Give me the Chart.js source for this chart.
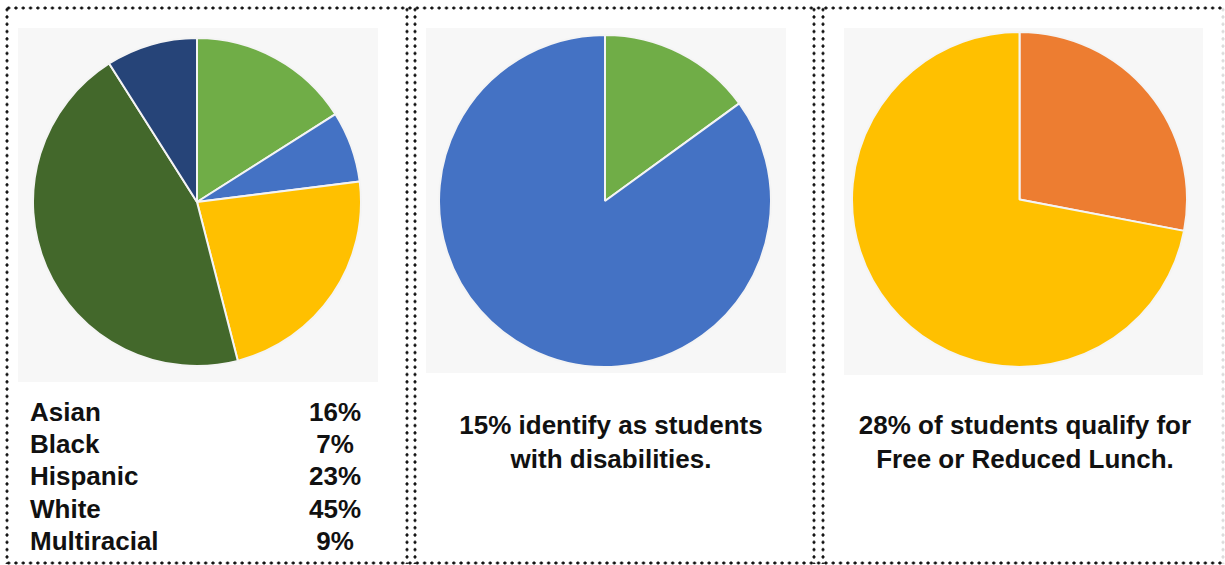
<!DOCTYPE html>
<html>
<head>
<meta charset="utf-8">
<script src="https://cdn.jsdelivr.net/npm/chart.js@4"></script>
<style>
  body { margin: 0; width: 1225px; height: 565px; background: #fff; position: relative; overflow: hidden;
         font-family: "Liberation Sans", Arial, sans-serif; font-weight: bold; color: #111; }
  .hdots { position: absolute; height: 4px; background: radial-gradient(circle, #111 1.3px, transparent 1.8px) 0 0 / 7.3px 4px repeat-x; }
  .vdots { position: absolute; width: 4px; background: radial-gradient(circle, #111 1.3px, transparent 1.8px) 0 0 / 4px 7.3px repeat-y; }
  .box { position: absolute; background: #f7f7f7; }
  .pie { position: absolute; }
  .txt { position: absolute; font-size: 26px; line-height: 34px; text-align: center; white-space: nowrap; }
  .row { position: absolute; font-size: 26px; white-space: nowrap; }
</style>
</head>
<body>
<div class="hdots" style="left:5px; top:6px; width:1220px"></div>
<div class="hdots" style="left:5px; top:561px; width:1220px"></div>
<div class="vdots" style="left:5px; top:6px; height:558px"></div>
<div class="vdots" style="left:405px; top:6px; height:558px"></div>
<div class="vdots" style="left:413px; top:6px; height:558px"></div>
<div class="vdots" style="left:812px; top:6px; height:558px"></div>
<div class="vdots" style="left:821px; top:6px; height:558px"></div>
<div class="vdots" style="left:1221px; top:6px; height:558px; opacity:0.15"></div>

<div class="box" style="left:18px; top:28px; width:360px; height:354px"></div>
<div class="box" style="left:426px; top:28px; width:360px; height:345px"></div>
<div class="box" style="left:844px; top:28px; width:359px; height:347px"></div>

<div class="pie" style="left:32px; top:37px; width:330px; height:330px"><canvas id="race"></canvas></div>
<div class="pie" style="left:438px; top:34px; width:334px; height:334px"><canvas id="disab"></canvas></div>
<div class="pie" style="left:851px; top:31px; width:337px; height:337px"><canvas id="lunch"></canvas></div>

<div id="legend"></div>
<div class="txt" style="left:420px; top:408px; width:382px">15% identify as students<br>with disabilities.</div>
<div class="txt" style="left:828px; top:408px; width:394px">28% of students qualify for<br>Free or Reduced Lunch.</div>

<script>
const raceLabels = ['Asian', 'Black', 'Hispanic', 'White', 'Multiracial']
const raceValues = [16, 7, 23, 45, 9]
const raceColors = ['#70ad47', '#4472c4', '#ffc000', '#43682b', '#264478']

const disabLabels = ['Students with disabilities', 'Other students']
const disabValues = [15, 85]
const disabColors = ['#70ad47', '#4472c4']

const lunchLabels = ['Free or Reduced Lunch', 'Other students']
const lunchValues = [28, 72]
const lunchColors = ['#ed7d31', '#ffc000']

function makePie(id, labels, values, colors) {
  new Chart(id, {
    type: 'pie',
    data: {
      labels: labels,
      datasets: [{
        data: values,
        backgroundColor: colors,
        borderColor: '#f4f4f4',
        borderWidth: 2,
        hoverOffset: 0
      }]
    },
    options: {
      responsive: true,
      maintainAspectRatio: false,
      animation: false,
      layout: { padding: 0 },
      plugins: {
        legend: { display: false },
        tooltip: { enabled: false }
      }
    }
  })
}

makePie('race', raceLabels, raceValues, raceColors)
makePie('disab', disabLabels, disabValues, disabColors)
makePie('lunch', lunchLabels, lunchValues, lunchColors)

// legend rows under the first pie
const legend = document.getElementById('legend')
raceLabels.forEach((name, i) => {
  const top = 397 + i * 32.2
  const l = document.createElement('div')
  l.className = 'row'
  l.style.left = '30px'
  l.style.top = top + 'px'
  l.textContent = name
  legend.appendChild(l)
  const v = document.createElement('div')
  v.className = 'row'
  v.style.left = '295px'
  v.style.width = '80px'
  v.style.textAlign = 'center'
  v.style.top = top + 'px'
  v.textContent = raceValues[i] + '%'
  legend.appendChild(v)
})
</script>
</body>
</html>
